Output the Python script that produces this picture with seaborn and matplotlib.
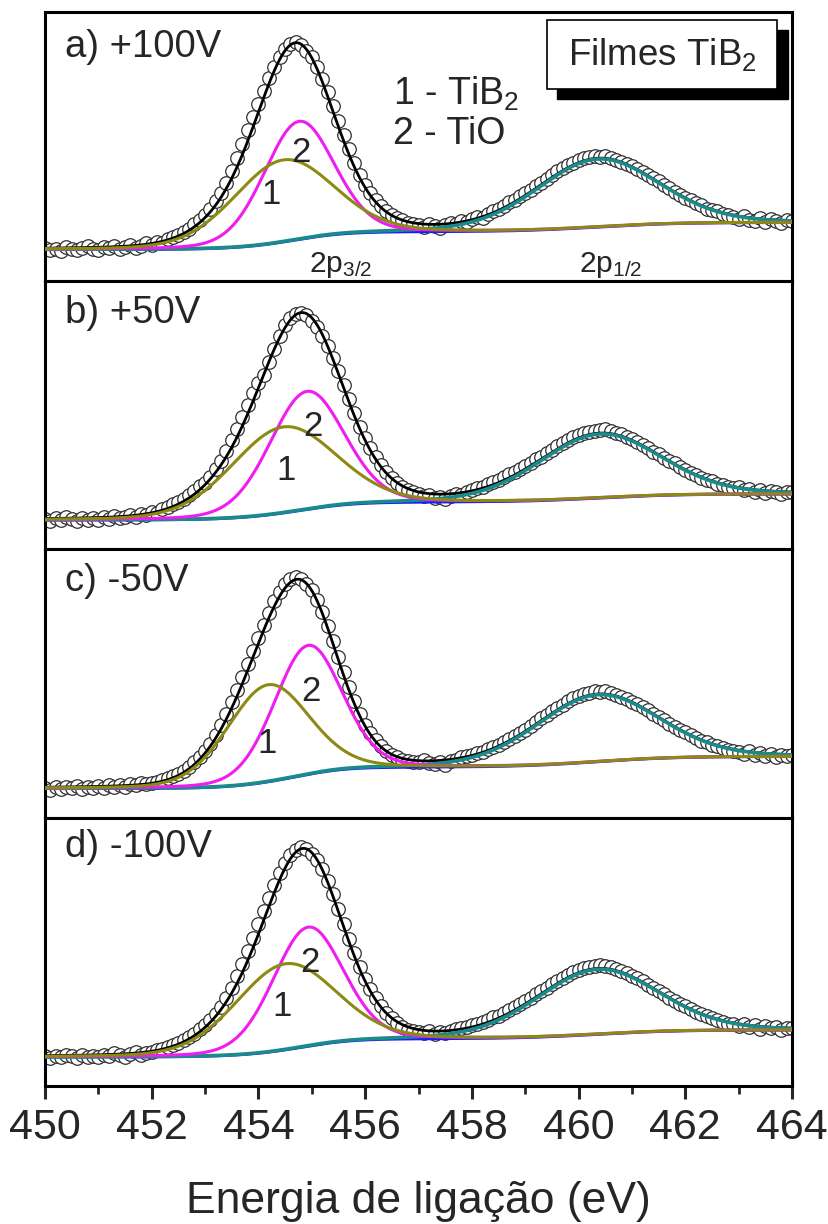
import numpy as np
import pandas as pd
import matplotlib
matplotlib.use('Agg')
import matplotlib.pyplot as plt
import seaborn as sns
from matplotlib.patches import Rectangle

sns.set_style('white')
plt.rcParams['font.family'] = ['Liberation Sans', 'DejaVu Sans']
plt.rcParams['mathtext.fontset'] = 'custom'
plt.rcParams['mathtext.rm'] = 'Liberation Sans'
plt.rcParams['mathtext.it'] = 'Liberation Sans:italic'
plt.rcParams['mathtext.bf'] = 'Liberation Sans:bold'

# ---------------- data ----------------
panel_labels = ['a) +100V', 'b) +50V', 'c) -50V', 'd) -100V']
x_ticks = [450, 452, 454, 456, 458, 460, 462, 464]

# binding energy of the measured points (0.1 eV step, 450 -> 464 eV)
energy = np.round(np.arange(450.0, 464.0001, 0.1), 1)

# measured intensity (arbitrary units), one list per panel
counts_a = [33, 31, 32, 30, 34, 32, 31, 33, 35, 32,
            31, 34, 33, 35, 32, 34, 36, 33, 35, 38,
            36, 39, 38, 42, 44, 46, 49, 52, 57, 61,
            66, 72, 80, 88, 98, 110, 123, 137, 151, 164,
            177, 190, 203, 214, 224, 232, 237, 239, 236, 230,
            224, 214, 202, 189, 175, 160, 146, 132, 118, 106,
            96, 88, 81, 75, 70, 66, 63, 61, 58, 57,
            56, 54, 57, 55, 53, 56, 58, 57, 60, 59,
            62, 64, 63, 67, 70, 72, 75, 79, 81, 85,
            88, 91, 95, 98, 102, 106, 110, 113, 116, 118,
            121, 123, 124, 125, 124, 125, 123, 121, 119, 117,
            115, 112, 109, 106, 103, 100, 96, 93, 89, 86,
            83, 81, 78, 76, 72, 71, 70, 67, 66, 64,
            62, 65, 61, 60, 63, 59, 62, 60, 58, 61,
            60]
counts_b = [30, 28, 31, 29, 32, 30, 28, 31, 29, 31,
            29, 32, 30, 33, 31, 32, 34, 32, 35, 34,
            37, 36, 40, 42, 45, 47, 50, 54, 58, 63,
            66, 72, 80, 88, 98, 109, 120, 132, 144, 156,
            166, 174, 187, 200, 213, 224, 231, 235, 236, 234,
            228, 222, 213, 203, 191, 178, 164, 150, 136, 122,
            111, 101, 92, 84, 77, 71, 66, 62, 59, 57,
            55, 53, 54, 51, 52, 50, 53, 55, 54, 57,
            59, 61, 62, 65, 67, 69, 72, 75, 77, 80,
            83, 86, 90, 92, 96, 99, 103, 106, 109, 112,
            114, 116, 117, 118, 119, 120, 118, 116, 115, 112,
            110, 107, 104, 101, 97, 95, 91, 88, 86, 82,
            79, 76, 74, 71, 69, 68, 65, 64, 62, 61,
            62, 59, 60, 57, 59, 56, 58, 57, 55, 57,
            57]
counts_c = [30, 28, 31, 29, 31, 30, 32, 29, 31, 30,
            32, 30, 33, 31, 33, 31, 34, 33, 35, 34,
            35, 36, 38, 40, 42, 44, 47, 51, 56, 61,
            67, 74, 83, 93, 104, 116, 128, 141, 154, 167,
            180, 193, 205, 217, 226, 234, 239, 241, 239, 234,
            228, 218, 206, 192, 177, 161, 146, 131, 117, 104,
            93, 85, 78, 72, 67, 63, 61, 58, 57, 56,
            56, 58, 55, 54, 56, 53, 57, 58, 61, 62,
            63, 65, 66, 69, 71, 73, 76, 79, 82, 85,
            88, 92, 96, 100, 103, 107, 110, 113, 117, 120,
            122, 124, 125, 127, 126, 127, 125, 123, 121, 119,
            116, 114, 111, 108, 104, 101, 98, 94, 91, 88,
            86, 83, 80, 77, 76, 73, 72, 70, 68, 67,
            66, 64, 67, 63, 65, 62, 64, 61, 63, 62,
            63]
counts_d = [30, 28, 30, 29, 31, 30, 28, 31, 29, 30,
            29, 31, 30, 33, 31, 29, 32, 34, 31, 33,
            34, 36, 37, 39, 41, 43, 46, 49, 52, 57,
            61, 66, 72, 79, 88, 98, 110, 122, 135, 148,
            162, 175, 188, 201, 213, 223, 231, 236, 239, 237,
            232, 226, 217, 205, 192, 177, 162, 147, 133, 119,
            107, 97, 88, 80, 73, 68, 63, 59, 56, 55,
            54, 53, 55, 52, 54, 53, 55, 57, 58, 59,
            61, 62, 64, 66, 69, 70, 73, 76, 79, 82,
            85, 88, 92, 95, 98, 102, 105, 108, 111, 114,
            116, 118, 119, 120, 121, 120, 119, 117, 115, 113,
            110, 108, 105, 101, 98, 95, 92, 88, 85, 82,
            80, 77, 74, 72, 70, 68, 66, 64, 62, 62,
            60, 62, 59, 61, 57, 60, 58, 59, 56, 58,
            58]
counts = [counts_a, counts_b, counts_c, counts_d]

# fitted peak components
# (centre eV, height above background, FWHM eV)
tib2_center = [454.46, 454.46, 454.18, 454.50]
tib2_height = [82, 86, 97, 86]
tib2_fwhm = [2.2, 2.3, 1.8, 2.2]
tio_center = [454.76, 454.91, 454.93, 454.93]
tio_height = [118, 118, 129, 119]
tio_fwhm = [1.55, 1.65, 1.5, 1.55]
p12_center = [460.36, 460.40, 460.36, 460.36]
p12_height = [68, 64, 67, 65]
p12_fwhm = [2.7, 2.7, 2.7, 2.7]
bg_low = [31, 29, 29, 29]      # Shirley background at 450 eV
bg_high = [58, 55, 61, 56]     # Shirley background at 464 eV
lor_frac = 0.15

# positions of the "1" / "2" peak labels (eV, intensity)
lab1_x = [454.24, 454.52, 454.16, 454.44]
lab1_y = [86, 78, 74, 80]
lab2_x = [454.80, 455.02, 454.99, 454.97]
lab2_y = [128, 123, 126, 124]
label_y = [0.87, 0.88, 0.88, 0.89]

E_fine = np.linspace(450, 464, 1401)


def pvoigt(E, c, h, w, eta=lor_frac):
    x = (E - c) / w
    return h * ((1 - eta) * np.exp(-4 * np.log(2) * x ** 2) + eta / (1 + 4 * x ** 2))


def shirley(s, lo, hi):
    cum = np.cumsum(s)
    return lo + (hi - lo) * cum / cum[-1]


W, H = 829, 1224
fig = plt.figure(figsize=(W / 100, H / 100), dpi=100)
left = 45 / W
width = 747 / W
ph = 268.5
top0 = 12

c_blue = '#1a1aff'
c_teal = '#1a8a8a'
c_mag = '#f01cf0'
c_olive = '#8c8a12'

axes = []
for i in range(4):
    top_px = top0 + i * ph
    ax = fig.add_axes([left, 1 - (top_px + ph) / H, width, ph / H])
    axes.append(ax)
    g1 = pvoigt(E_fine, tib2_center[i], tib2_height[i], tib2_fwhm[i])
    g2 = pvoigt(E_fine, tio_center[i], tio_height[i], tio_fwhm[i])
    g3 = pvoigt(E_fine, p12_center[i], p12_height[i], p12_fwhm[i])
    bg = shirley(g1 + g2 + g3, bg_low[i], bg_high[i])
    total = bg + g1 + g2 + g3

    df = pd.DataFrame({'energy': energy, 'counts': counts[i]})
    sns.scatterplot(data=df, x='energy', y='counts', ax=ax, s=95, color='white',
                    edgecolor='#303030', linewidth=0.9, zorder=2, legend=False)
    kw = dict(ax=ax, estimator=None, sort=False, legend=False)
    sns.lineplot(x=E_fine, y=bg, color=c_blue, lw=2.2, zorder=3, **kw)
    sns.lineplot(x=E_fine, y=total, color='black', lw=2.0, zorder=4, **kw)
    sns.lineplot(x=E_fine, y=bg + g3, color=c_teal, lw=2.6, zorder=5, **kw)
    sns.lineplot(x=E_fine, y=bg + g2, color=c_mag, lw=2.2, zorder=6, **kw)
    sns.lineplot(x=E_fine, y=bg + g1, color=c_olive, lw=2.2, zorder=7, **kw)

    ax.set_xlim(450, 464)
    ax.set_ylim(0, ph)
    ax.set_yticks([])
    ax.set_ylabel('')
    for sp in ax.spines.values():
        sp.set_linewidth(2.2)
        sp.set_color('black')
    ax.text(0.027, label_y[i], panel_labels[i], transform=ax.transAxes,
            fontsize=27.5, ha='left', va='center')
    ax.text(lab2_x[i], lab2_y[i], '2', fontsize=25, ha='center', va='center', zorder=9)
    ax.text(lab1_x[i], lab1_y[i], '1', fontsize=25, ha='center', va='center', zorder=9)
    if i < 3:
        ax.set_xticks([])
        ax.set_xlabel('')

ax = axes[0]
ax.text(456.52, 187, r'1 - TiB$_2$', fontsize=27, ha='left', va='center')
ax.text(456.52, 146, '2 - TiO', fontsize=27, ha='left', va='center')
ax.text(454.95, 15, r'2p$_{3/2}$', fontsize=21.5, ha='left', va='center')
ax.text(460.0, 15, r'2p$_{1/2}$', fontsize=21.5, ha='left', va='center')
ax.add_patch(Rectangle((0.686, 0.677), 0.308, 0.255, transform=ax.transAxes,
                       facecolor='black', edgecolor='black', zorder=10))
ax.add_patch(Rectangle((0.672, 0.715), 0.308, 0.255, transform=ax.transAxes,
                       facecolor='white', edgecolor='black', lw=1.2, zorder=11))
ax.text(0.826, 0.843, r'Filmes TiB$_2$', transform=ax.transAxes, fontsize=26.5,
        ha='center', va='center', zorder=12)

axb = axes[3]
axb.set_xticks(x_ticks)
axb.set_xticks(np.arange(451, 464, 2), minor=True)
axb.tick_params(axis='x', which='major', direction='out', length=9.5, width=2.2,
                labelsize=31, pad=6, bottom=True)
axb.tick_params(axis='x', which='minor', direction='out', length=5.5, width=2.0,
                bottom=True)
axb.set_xlabel('Energia de ligação (eV)', fontsize=32, labelpad=24)

fig.savefig('out.png', dpi=100)
